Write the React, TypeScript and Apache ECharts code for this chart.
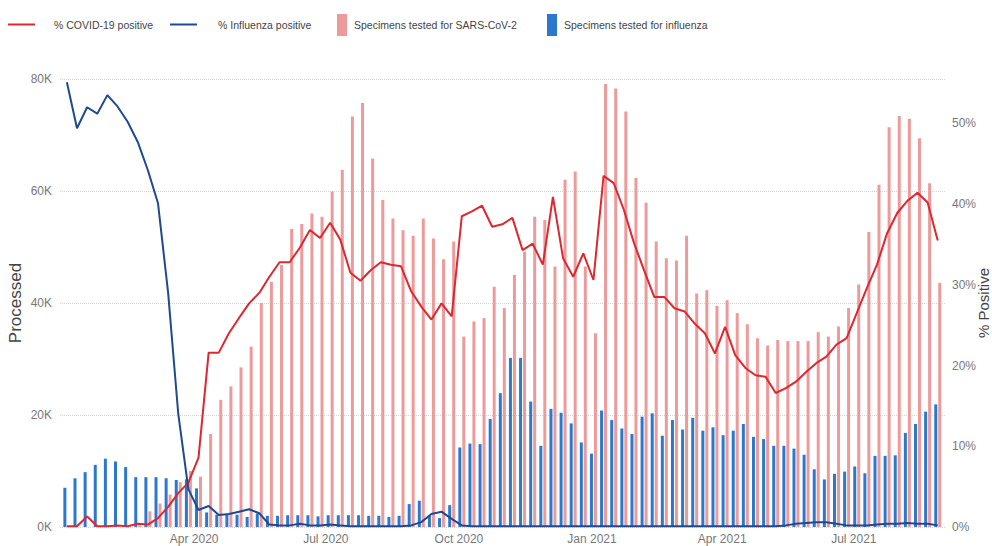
import React, { useEffect, useRef } from "react";
import * as echarts from "echarts";

const DAY = 86400000;
const FIRST_WEEK = Date.UTC(2020, 0, 4);
const AXIS_MIN = Date.UTC(2020, 0, 1, 16);
const AXIS_MAX = Date.UTC(2021, 7, 31, 7);
const MONTHS = ["Jan", "Feb", "Mar", "Apr", "May", "Jun", "Jul", "Aug", "Sep", "Oct", "Nov", "Dec"];

// Specimens tested for SARS-CoV-2 (weekly)
const covidTests = [
  0, 0, 0, 0, 0, 0, 0, 300,
  2800, 4200, 5800, 8000, 10000, 9000,
  16600, 22700, 25100, 28500, 32200, 40000, 43800, 46800, 53200, 54100,
  56000, 55400, 59900, 63800, 73300, 75700, 65800, 58400, 55100, 53000,
  52000, 55100, 51500, 47800, 51000, 34000, 36700, 37300, 42900, 39100,
  45000, 49200, 55400, 54800, 46500, 62000, 63500, 46500, 34600, 79100,
  78300, 74200, 62300, 57900, 51000, 48000, 47600, 52000, 41700, 42300,
  39500, 40500, 38200, 36200, 33700, 32400, 33400, 33200, 33200, 33200,
  34800, 34000, 35800, 39100, 43300, 52700, 61100, 71400, 73400, 72900,
  69400, 61400, 43600,
];

// Specimens tested for influenza (weekly)
const fluTests = [
  7000, 8700, 9800, 11100, 12200, 11700, 10700, 8900, 8900, 8900,
  8700, 8400, 8500, 6900, 2600, 2200, 2300, 2200, 1800, 2400,
  2000, 2000, 2100, 2100, 2100, 1900, 2100, 2100, 2100, 2100,
  2000, 2000, 1800, 2000, 4100, 4700, 2000, 1600, 3900, 14200,
  14900, 14800, 19300, 23900, 30200, 30200, 22400, 14500, 21100, 20400,
  18500, 15100, 13100, 20800, 19100, 17600, 16600, 19700, 20300, 16300,
  19100, 17400, 19500, 17200, 17800, 16400, 17200, 18400, 16100, 15700,
  14500, 14500, 14000, 12900, 10300, 8500, 9500, 9900, 10800, 9600,
  12700, 12700, 12800, 16800, 18400, 20600, 21900,
];

// % COVID-19 positive
const covidPct = [
  0.1, 0.1, 1.3, 0.1, 0.1, 0.2, 0.1, 0.4, 0.3, 1.1,
  2.5, 4.2, 5.5, 8.6, 21.6, 21.6, 24.0, 25.9, 27.7, 29.0,
  31.0, 32.8, 32.8, 34.6, 36.8, 35.8, 37.7, 35.6, 31.5, 30.5,
  31.8, 32.8, 32.5, 32.3, 29.2, 27.3, 25.7, 27.7, 26.1, 38.5,
  39.1, 39.8, 37.2, 37.5, 38.3, 34.3, 35.1, 32.5, 40.9, 33.3,
  31.0, 33.9, 30.6, 43.5, 42.6, 39.3, 35.2, 31.8, 28.5, 28.5,
  27.1, 26.7, 25.2, 24.0, 21.5, 24.8, 21.3, 19.7, 18.8, 18.6,
  16.6, 17.2, 18.0, 19.2, 20.3, 21.1, 22.6, 23.4, 26.5, 29.6,
  32.5, 36.4, 38.9, 40.4, 41.4, 40.2, 35.5,
];

// % Influenza positive
const fluPct = [
  55.1, 49.4, 52.0, 51.2, 53.5, 52.1, 50.2, 47.7, 44.2, 40.1,
  29.0, 14.0, 4.7, 2.1, 2.6, 1.5, 1.6, 1.9, 2.2, 1.7,
  0.3, 0.2, 0.2, 0.4, 0.2, 0.2, 0.3, 0.2, 0.1, 0.1,
  0.1, 0.1, 0.1, 0.1, 0.2, 0.6, 1.6, 1.9, 1.0, 0.2,
  0.1, 0.1, 0.1, 0.1, 0.1, 0.1, 0.1, 0.1, 0.1, 0.1,
  0.1, 0.1, 0.1, 0.1, 0.1, 0.1, 0.1, 0.1, 0.1, 0.1,
  0.1, 0.1, 0.1, 0.1, 0.1, 0.1, 0.1, 0.1, 0.1, 0.1,
  0.1, 0.2, 0.4, 0.5, 0.6, 0.6, 0.4, 0.2, 0.2, 0.2,
  0.3, 0.4, 0.4, 0.5, 0.4, 0.4, 0.2,
];

const weeks = covidTests.map((_, i) => FIRST_WEEK + i * 7 * DAY);

const NAME_COVID_PCT = "% COVID-19 positive";
const NAME_FLU_PCT = "% Influenza positive";
const NAME_COVID_TESTS = "Specimens tested for SARS-CoV-2";
const NAME_FLU_TESTS = "Specimens tested for influenza";

const FONT = "Liberation Sans, Arial, sans-serif";

export default function App() {
  const ref = useRef<HTMLDivElement>(null);
  useEffect(() => {
    if (!ref.current) return;
    const chart = echarts.init(ref.current, undefined, { renderer: "svg" });
    const legendText = { color: "#444", fontSize: 10.5, fontFamily: FONT };
    const legendBase = { padding: 0, icon: "rect", selectedMode: false };
    chart.setOption({
      animation: false,
      useUTC: true,
      textStyle: { fontFamily: FONT },
      legend: [
        { ...legendBase, data: [NAME_COVID_PCT], left: 8, top: 19, itemWidth: 27, itemHeight: 2, textStyle: { ...legendText, padding: [0, 0, 0, 14] } },
        { ...legendBase, data: [NAME_FLU_PCT], left: 170, top: 19, itemWidth: 27, itemHeight: 2, textStyle: { ...legendText, padding: [0, 0, 0, 16] } },
        { ...legendBase, data: [NAME_COVID_TESTS], left: 337, top: 14, itemWidth: 10, itemHeight: 22, textStyle: { ...legendText, padding: [0, 0, 0, 2] } },
        { ...legendBase, data: [NAME_FLU_TESTS], left: 547, top: 14, itemWidth: 10, itemHeight: 22, textStyle: { ...legendText, padding: [0, 0, 0, 2] } },
      ],
      grid: { left: 60, right: 46, top: 79, bottom: 19, containLabel: false, outerBoundsMode: "none" },
      xAxis: {
        type: "time",
        min: AXIS_MIN,
        max: AXIS_MAX,
        splitNumber: 12,
        axisLine: { show: false },
        axisTick: { show: false },
        splitLine: { show: false },
        axisLabel: {
          color: "#777",
          fontSize: 12,
          margin: 6,
          interval: 0,
          showMinLabel: false,
          showMaxLabel: false,
          hideOverlap: false,
          formatter: (v: number) => {
            const d = new Date(v);
            const m = d.getUTCMonth();
            const y = d.getUTCFullYear();
            if (d.getUTCDate() !== 1 || m % 3 !== 0) return "";
            if (y === 2020 && m === 0) return "";
            return MONTHS[m] + " " + y;
          },
        },
      },
      yAxis: [
        {
          type: "value",
          min: 0,
          max: 80000,
          interval: 20000,
          name: "Processed",
          nameLocation: "middle",
          nameRotate: 90,
          nameGap: 36,
          nameMoveOverlap: false,
          nameTextStyle: { color: "#444", fontSize: 17, fontFamily: FONT },
          axisLine: { show: false },
          axisTick: { show: false },
          axisLabel: { color: "#777", fontSize: 12, margin: 8, formatter: (v: number) => v / 1000 + "K" },
          splitLine: { show: true, lineStyle: { color: "#d4d4d4", type: "dotted", width: 1 } },
        },
        {
          type: "value",
          min: 0,
          max: 0.555,
          interval: 0.1,
          name: "% Positive",
          nameLocation: "middle",
          nameRotate: 90,
          nameGap: 30,
          nameMoveOverlap: false,
          nameTextStyle: { color: "#444", fontSize: 15, fontFamily: FONT },
          axisLine: { show: false },
          axisTick: { show: false },
          axisLabel: {
            color: "#777",
            fontSize: 12,
            margin: 6,
            formatter: (v: number) => (v > 0.505 ? "" : Math.round(v * 100) + "%"),
          },
          splitLine: { show: false },
        },
      ],
      series: [
        {
          name: NAME_FLU_TESTS,
          type: "bar",
          barWidth: 3,
          barGap: "33%",
          itemStyle: { color: "#2D78CF" },
          data: weeks.map((t, i) => [t, fluTests[i]]),
        },
        {
          name: NAME_COVID_TESTS,
          type: "bar",
          barWidth: 3,
          barGap: "33%",
          itemStyle: { color: "#EE9A9A" },
          data: weeks.map((t, i) => [t, covidTests[i]]),
        },
        {
          name: NAME_COVID_PCT,
          type: "line",
          yAxisIndex: 1,
          symbol: "none",
          itemStyle: { color: "#DC2830" },
          lineStyle: { color: "#DC2830", width: 2 },
          data: weeks.map((t, i) => [t, covidPct[i] / 100]),
        },
        {
          name: NAME_FLU_PCT,
          type: "line",
          yAxisIndex: 1,
          symbol: "none",
          itemStyle: { color: "#1F4A90" },
          lineStyle: { color: "#1F4A90", width: 2 },
          data: weeks.map((t, i) => [t, fluPct[i] / 100]),
        },
      ],
    });
    return () => chart.dispose();
  }, []);
  return <div ref={ref} style={{ width: 992, height: 546, position: "absolute", left: 0, top: 0 }} />;
}
